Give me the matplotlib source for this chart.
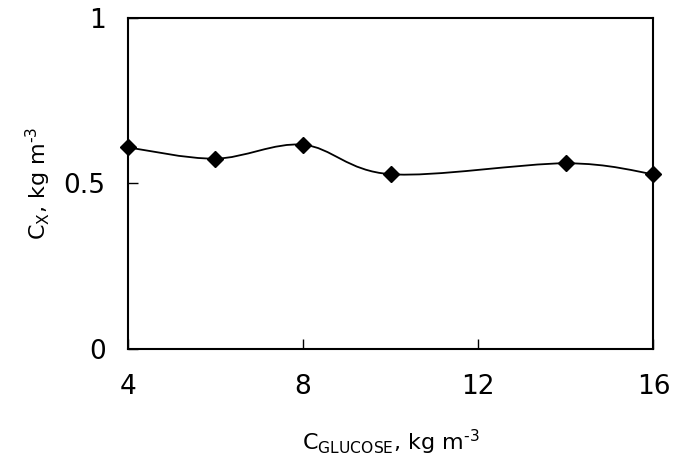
import matplotlib
matplotlib.use("Agg")
import matplotlib.pyplot as plt
from matplotlib.path import Path
from matplotlib.patches import PathPatch
import numpy as np

# glucose concentration vs biomass
glucose = [4, 6, 8, 10, 14, 16]
cx = [0.609, 0.575, 0.617, 0.528, 0.561, 0.528]

x_ticks = [4, 8, 12, 16]
y_ticks = [0, 0.5, 1]
y_tick_labels = ["0", "0.5", "1"]


def smooth_path(xs, ys):
    # Excel-like smoothed line: cubic bezier segments through the points
    pts = np.column_stack([xs, ys]).astype(float)
    n = len(pts)
    verts = [pts[0]]
    codes = [Path.MOVETO]
    for i in range(n - 1):
        p0 = pts[i - 1] if i > 0 else pts[i]
        p1 = pts[i]
        p2 = pts[i + 1]
        p3 = pts[i + 2] if i + 2 < n else pts[i + 1]
        c1 = p1 + (p2 - p0) / 6.0
        c2 = p2 - (p3 - p1) / 6.0
        verts += [c1, c2, p2]
        codes += [Path.CURVE4] * 3
    return Path(verts, codes)


fig = plt.figure(figsize=(6.73, 4.61), dpi=100)
ax = fig.add_axes([0.190, 0.243, 0.781, 0.718])

patch = PathPatch(smooth_path(glucose, cx), facecolor="none",
                  edgecolor="black", lw=1.3, clip_on=False)
ax.add_patch(patch)
ax.plot(glucose, cx, linestyle="none", marker="D", markersize=8.5,
        color="black", clip_on=False, zorder=3)

ax.set_xlim(4, 16)
ax.set_ylim(0, 1)
ax.set_xticks(x_ticks)
ax.set_yticks(y_ticks)
ax.set_yticklabels(y_tick_labels)

for s in ax.spines.values():
    s.set_linewidth(1.5)

ax.tick_params(axis="both", direction="in", length=7, width=1,
               labelsize=19)
ax.tick_params(axis="x", pad=18)
ax.tick_params(axis="y", pad=16)

ax.set_xlabel(r"C$_{\mathregular{GLUCOSE}}$, kg m$^{\text{-3}}$",
              fontsize=16, labelpad=20)
ax.set_ylabel(r"C$_{\mathregular{X}}$, kg m$^{\text{-3}}$",
              fontsize=16, labelpad=8)

fig.savefig("out.png", dpi=100)
